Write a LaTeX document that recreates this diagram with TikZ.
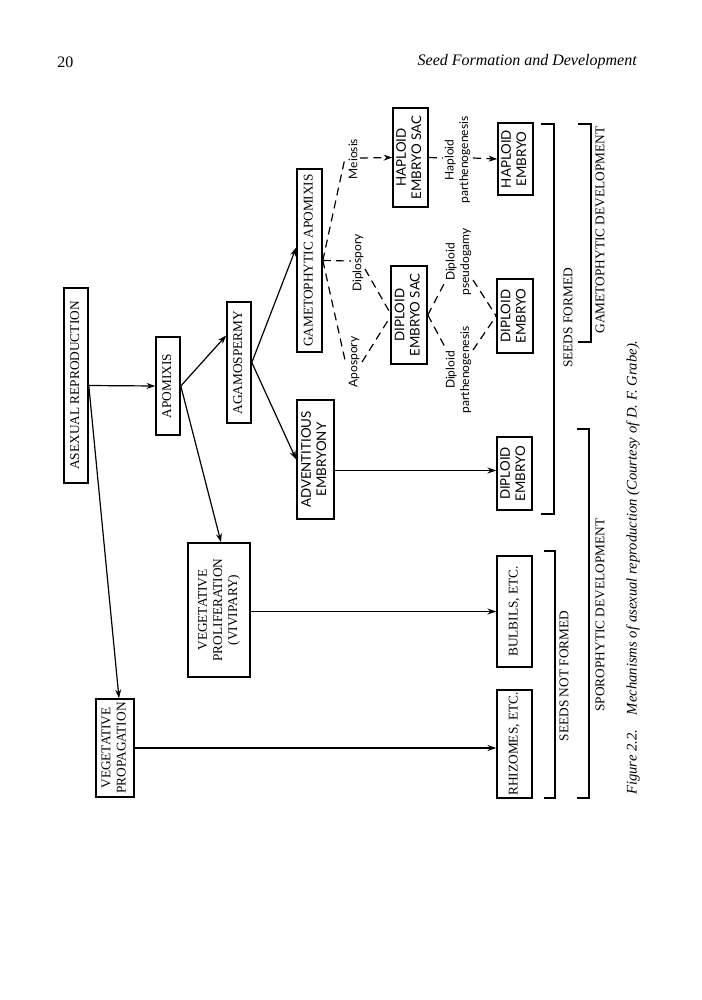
\documentclass[tikz,border=0pt]{standalone}
\usepackage{fontspec}
\setmainfont{Liberation Serif}
\newfontfamily\gsans{Lato}
\usetikzlibrary{arrows.meta,calc}
\newcommand\rtxt[1]{\rotatebox{90}{\begin{tabular}{@{}c@{}}#1\end{tabular}}}
\begin{document}
\begin{tikzpicture}[x=0.75pt,y=-0.75pt,
  sz/.style 2 args={minimum width=#1*0.75pt,minimum height=#2*0.75pt},
  box/.style={draw,line width=1.2pt,inner sep=0pt,font=\fontsize{10}{11.3}\selectfont},
  sbox/.style={box,font=\gsans\fontsize{10}{11.3}\selectfont},
  arr/.style={line width=0.9pt,-{Stealth[length=6.5pt,width=4.5pt]}},
  dsh/.style={line width=0.9pt,dash pattern=on 6pt off 4pt},
  dsharr/.style={dsh,-{Stealth[length=6.5pt,width=4.5pt]}},
  lab/.style={rotate=90,inner sep=0pt,font=\gsans\fontsize{9}{10.8}\selectfont,align=center},
  brk/.style={line width=1.1pt},
  blab/.style={rotate=90,inner sep=0pt,font=\fontsize{10}{12}\selectfont}]
\fill[white] (0,0) rectangle (701,1000);
\useasboundingbox (0,0) rectangle (701,1000);

% header
\node[anchor=west,inner sep=0pt,font=\fontsize{12}{14}\selectfont] (pg) at (57,62) {20};
\node[anchor=east,inner sep=0pt,font=\itshape\fontsize{12}{14}\selectfont] (ttl) at (637,62) {Seed Formation and Development};

% boxes
\node[box,sz={24}{195}] (AR) at (76,385.5) {\rtxt{ASEXUAL REPRODUCTION}};
\node[box,sz={24}{98}] (APO) at (168,386) {\rtxt{APOMIXIS}};
\node[box,sz={24}{121}] (AGA) at (239,362.5) {\rtxt{AGAMOSPERMY}};
\node[box,sz={25}{183}] (GA) at (309.5,260.5) {\rtxt{GAMETOPHYTIC APOMIXIS}};
\node[sbox,sz={37}{119}] (ADV) at (315.5,459.5) {\rtxt{ADVENTITIOUS\\EMBRYONY}};
\node[box,sz={62}{134}] (VPROL) at (219,610) {\rtxt{VEGETATIVE\\PROLIFERATION\\(VIVIPARY)}};
\node[box,sz={38}{98}] (VPROP) at (115,748) {\rtxt{VEGETATIVE\\PROPAGATION}};
\node[sbox,sz={35}{99}] (HES) at (410.5,157.5) {\rtxt{HAPLOID\\EMBRYO SAC}};
\node[sbox,sz={36}{98}] (DES) at (409,315) {\rtxt{DIPLOID\\EMBRYO SAC}};
\node[sbox,sz={35}{72}] (HE) at (515.5,159) {\rtxt{HAPLOID\\EMBRYO}};
\node[sbox,sz={36}{74}] (DE2) at (515,316) {\rtxt{DIPLOID\\EMBRYO}};
\node[sbox,sz={35}{73}] (DE1) at (514.5,473.5) {\rtxt{DIPLOID\\EMBRYO}};
\node[box,sz={35}{111}] (BUL) at (514.5,611.5) {\rtxt{BULBILS, ETC.}};
\node[box,sz={35}{108}] (RHI) at (514.5,744) {\rtxt{RHIZOMES, ETC.}};

% solid connectors
\draw[arr] (AR.east) -- (APO.west);
\draw[arr] (AR.east) -- ($(VPROP.north)+(4,0)$);
\draw[arr] (APO.east) -- ($(VPROL.north)+(2,0)$);
\draw[arr] (APO.east) -- ($(AGA.west)+(0,-27)$);
\draw[arr] (AGA.east) -- ($(GA.west)+(0,-13)$);
\draw[arr] (AGA.east) -- (ADV.west);
\coordinate (d1) at ($(DE1.west)+(0,-3)$);
\draw[arr] (ADV.east |- d1) -- (d1);
\draw[arr] (VPROL.east |- BUL.west) -- (BUL.west);
\draw[arr] (VPROP.east) -- (VPROP.east -| RHI.west);

% Meiosis
\node[lab] (Lmei) at (353,159) {Meiosis};
\coordinate (mei1) at (345,158);
\coordinate (mei2) at (360,158);
\draw[dsh] (GA.east) -- (mei1);
\draw[dsharr] (mei2) -- (HES.west);

% Diplospory
\node[lab] (Ldip) at (358,263) {Diplospory};
\coordinate (dip1) at (351,261);
\coordinate (dip2) at (365,269);
\draw[dsh] (GA.east) -- (dip1);
\draw[dsh] (dip2) -- ($(DES.west)+(0,-2)$);

% Apospory
\node[lab] (Lapo) at (354,362) {Apospory};
\coordinate (apo1) at (345,360);
\coordinate (apo2) at (362,362);
\draw[dsh] (GA.east) -- (apo1);
\draw[dsh] (apo2) -- ($(DES.west)+(0,2)$);

% Diploid pseudogamy
\node[lab] (Lpse) at (458.5,262) {Diploid\\pseudogamy};
\coordinate (pse1) at (445,282);
\coordinate (pse2) at (473,280);
\draw[dsh] (DES.east) -- (pse1);
\draw[dsh] (pse2) -- (DE2.west);

% Diploid parthenogenesis
\node[lab] (Lpar) at (458.5,370) {Diploid\\parthenogenesis};
\coordinate (par1) at (445,347);
\coordinate (par2) at (473,350);
\draw[dsh] (DES.east) -- (par1);
\draw[dsh] (par2) -- (DE2.west);

% Haploid parthenogenesis
\node[lab] (Lhap) at (457.5,160) {Haploid\\parthenogenesis};
\coordinate (hap1) at (443,158);
\coordinate (hap2) at (473,158);
\draw[dsh] (HES.east) -- (hap1);
\draw[dsharr] (hap2) -- (HE.west);

% brackets
\draw[brk] (544,551) -- (555,551) -- (555,798) -- (544,798);
\node[blab] (snf) at (564,676) {SEEDS NOT FORMED};
\draw[brk] (577,429) -- (589,429) -- (589,798) -- (577,798);
\node[blab] (spd) at (600,615) {SPOROPHYTIC DEVELOPMENT};
\draw[brk] (541,124) -- (554,124) -- (554,514) -- (541,514);
\node[blab] (sf) at (568,318) {SEEDS FORMED};
\draw[brk] (578,124) -- (591,124) -- (591,342) -- (578,342);
\node[blab] (gd) at (600,230) {GAMETOPHYTIC DEVELOPMENT};

% caption
\node[rotate=90,anchor=west,inner sep=0pt,font=\itshape\fontsize{11}{13}\selectfont] (cap) at (633,795) {Figure 2.2.\quad Mechanisms of asexual reproduction (Courtesy of D. F. Grabe).};
\end{tikzpicture}
\end{document}
